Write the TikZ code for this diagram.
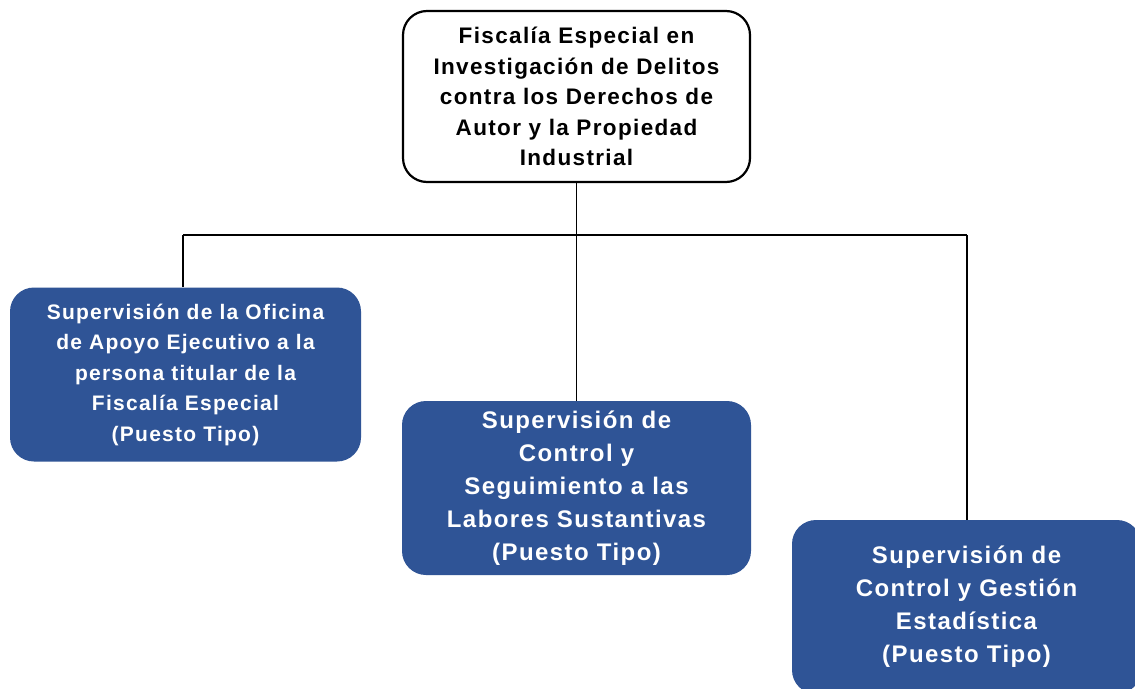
\documentclass[tikz,border=0pt]{standalone}
\usepackage{fontspec}
\setmainfont{Liberation Sans}
\newfontfamily\spacedsans[LetterSpace=6]{Liberation Sans}
\definecolor{boxblue}{RGB}{47,84,150}
\begin{document}
\begin{tikzpicture}[x=1pt,y=-1pt,
  topbox/.style={draw=black, line width=2.2pt, fill=white, rounded corners=24pt,
    minimum width=347pt, minimum height=171pt, align=center, inner sep=0pt,
    font=\spacedsans\fontsize{22.5}{30.5}\selectfont\bfseries, text=black},
  bluebox/.style={fill=boxblue, rounded corners=24pt,
    minimum width=351pt, minimum height=174pt, align=center, inner sep=0pt,
    text=white},
  link/.style={draw=black, line width=1.6pt}]
\useasboundingbox[clip] (0,0) rectangle (1135,688);
\fill[white] (0,0) rectangle (1135,688);
\node[topbox] (top) at (576.5,96.5) {Fiscalía Especial en\\Investigación de Delitos\\contra los Derechos de\\Autor y la Propiedad\\Industrial};
\node[bluebox, font=\spacedsans\fontsize{21}{30.5}\selectfont\bfseries] (left) at (185.5,374.5) {Supervisión de la Oficina\\de Apoyo Ejecutivo a la\\persona titular de la\\Fiscalía Especial\\(Puesto Tipo)};
\node[bluebox, minimum width=349pt, font=\spacedsans\fontsize{24}{33}\selectfont\bfseries] (mid) at (576.5,488) {Supervisión de\\Control y\\Seguimiento a las\\Labores Sustantivas\\(Puesto Tipo)};
\node[bluebox, minimum width=349pt, font=\spacedsans\fontsize{24}{33}\selectfont\bfseries] (right) at (966.5,607) {Supervisión de\\Control y Gestión\\Estadística\\(Puesto Tipo)};
\coordinate (j) at (576.5,235);
\coordinate (jl) at (183,235);
\coordinate (jr) at (967,235);
\draw[link] (top.south) -- (j);
\draw[link] (jl) -- (jr);
\draw[link] (jl) -- (jl |- left.north);
\draw[link] (j) -- (mid.north);
\draw[link] (jr) -- (jr |- right.north);
\end{tikzpicture}
\end{document}
